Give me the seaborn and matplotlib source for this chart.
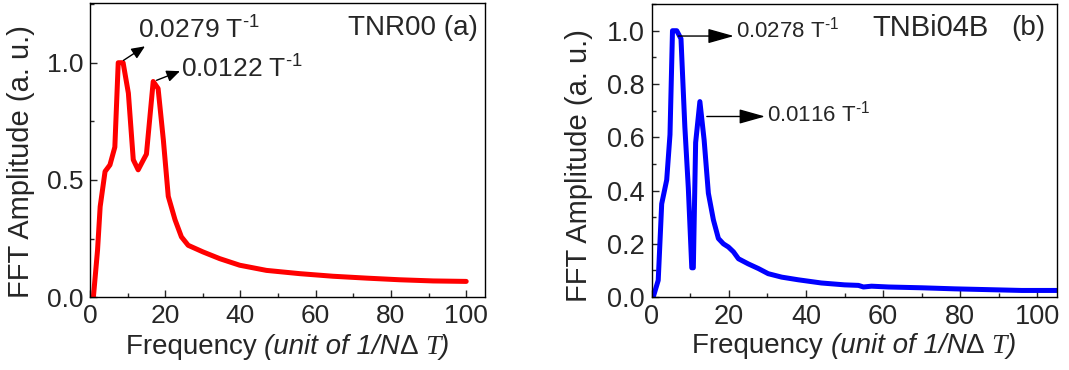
import matplotlib
matplotlib.use("Agg")
import matplotlib.pyplot as plt
import seaborn as sns
from matplotlib.ticker import MultipleLocator, FormatStrFormatter
from matplotlib.offsetbox import TextArea, HPacker, AnchoredOffsetbox

# panel (a) TNR00
freq_a = [0.9, 2.0, 2.7, 4.0, 5.3, 6.6, 7.5, 8.8, 10.2, 11.5, 12.8, 14.2, 15.0,
          16.8, 18.1, 19.5, 20.8, 22.6, 24.3, 26.1, 30.0, 34.5, 39.8, 46.9,
          55.8, 64.6, 73.5, 82.3, 91.2, 100.0]
amp_a = [0.0, 0.2, 0.386, 0.536, 0.564, 0.64, 1.0, 1.0, 0.87, 0.586, 0.543,
         0.586, 0.61, 0.92, 0.89, 0.67, 0.43, 0.33, 0.257, 0.221, 0.193, 0.164,
         0.136, 0.114, 0.10, 0.089, 0.081, 0.074, 0.069, 0.067]

# panel (b) TNBi04B
freq_b = [0.4, 1.7, 2.6, 3.9, 4.75, 5.4, 6.5, 7.6, 8.6, 9.5, 10.4, 10.8, 11.4,
          12.5, 13.6, 14.7, 16.0, 17.3, 18.6, 19.9, 21.2, 22.5, 25.0, 27.7,
          30.2, 33.7, 38.0, 44.0, 50.0, 53.6, 54.9, 57.0, 61.4, 70.0, 78.6,
          87.3, 95.9, 105.0]
amp_b = [0.0, 0.063, 0.35, 0.44, 0.61, 1.0, 1.0, 0.97, 0.64, 0.41, 0.11, 0.11,
         0.58, 0.734, 0.59, 0.39, 0.29, 0.22, 0.2, 0.188, 0.17, 0.144, 0.125,
         0.107, 0.088, 0.075, 0.065, 0.053, 0.046, 0.044, 0.038, 0.041, 0.038,
         0.035, 0.031, 0.028, 0.025, 0.025]

peak_labels_a = ["0.0279 T$^{\\text{-1}}$", "0.0122 T$^{\\text{-1}}$"]
peak_labels_b = ["0.0278 T$^{\\text{-1}}$", "0.0116 T$^{\\text{-1}}$"]

sns.set_style("ticks")
plt.rcParams['font.family'] = ['Liberation Sans', 'DejaVu Sans']
plt.rcParams['mathtext.fontset'] = 'custom'
plt.rcParams['mathtext.rm'] = 'Liberation Sans'
plt.rcParams['mathtext.it'] = 'Liberation Sans:italic'
plt.rcParams['mathtext.bf'] = 'Liberation Sans:bold'

ylabel = "FFT Amplitude (a. u.)"

fig = plt.figure(figsize=(10.69, 3.70), dpi=100)
ax_a = fig.add_axes([0.0842, 0.197, 0.3695, 0.795])
ax_b = fig.add_axes([0.6096, 0.197, 0.3789, 0.792])


def add_xlabel(ax, y):
    # mixed upright / italic label built from pieces
    size = 20
    parts = [
        TextArea("Frequency ", textprops=dict(fontsize=size)),
        TextArea("(unit of 1/N", textprops=dict(fontsize=size, style='italic')),
        TextArea("\u0394 ", textprops=dict(fontsize=size)),
        TextArea("T", textprops=dict(fontsize=size, style='italic',
                                     family='Liberation Serif')),
        TextArea(")", textprops=dict(fontsize=size, style='italic')),
    ]
    box = HPacker(children=parts, align="baseline", pad=0, sep=0)
    anchored = AnchoredOffsetbox(loc='center', child=box, pad=0, borderpad=0,
                                 frameon=False, bbox_to_anchor=(0.5, y),
                                 bbox_transform=ax.transAxes)
    ax.add_artist(anchored)


def style_axis(ax, tick_size, ymajor, yminor, ymax, ylab_x, ylab_y):
    ax.set_xlim(0, 105)
    ax.set_ylim(0, ymax)
    ax.xaxis.set_major_locator(MultipleLocator(20))
    ax.xaxis.set_minor_locator(MultipleLocator(10))
    ax.yaxis.set_major_locator(MultipleLocator(ymajor))
    ax.yaxis.set_minor_locator(MultipleLocator(yminor))
    ax.yaxis.set_major_formatter(FormatStrFormatter('%.1f'))
    ax.tick_params(which='both', direction='in', top=False, right=False,
                   labelsize=tick_size, width=1, pad=5)
    ax.tick_params(which='major', length=5)
    ax.tick_params(which='minor', length=3)
    for s in ax.spines.values():
        s.set_visible(True)
        s.set_linewidth(1)
        s.set_color('black')
    ax.set_xlabel("")
    ax.set_ylabel(ylabel, fontsize=21)
    ax.yaxis.set_label_coords(ylab_x, ylab_y)


# (a)
sns.lineplot(x=freq_a, y=amp_a, ax=ax_a, color='#ff0000', lw=3.6, sort=False,
             solid_joinstyle='round')
style_axis(ax_a, 19, 0.5, 0.25, 1.255, -0.14, 0.46)
add_xlabel(ax_a, -0.17)
arrow_a = dict(arrowstyle='-|>,head_length=0.8,head_width=0.35', color='black', lw=1,
               shrinkA=0, shrinkB=0)
ax_a.annotate("", xy=(14.6, 1.07), xytext=(8.9, 1.01), arrowprops=arrow_a)
ax_a.text(12.8, 1.14, peak_labels_a[0], fontsize=19, va='center', ha='left')
ax_a.annotate("", xy=(23.9, 0.964), xytext=(17.7, 0.925), arrowprops=arrow_a)
ax_a.text(24.3, 0.975, peak_labels_a[1], fontsize=19, va='center', ha='left')
ax_a.text(0.982, 0.915, "TNR00 (a)", transform=ax_a.transAxes, fontsize=20,
          ha='right', va='center')

# (b)
sns.lineplot(x=freq_b, y=amp_b, ax=ax_b, color='#0000ff', lw=3.6, sort=False,
             solid_joinstyle='round')
style_axis(ax_b, 19.5, 0.2, 0.1, 1.10, -0.145, 0.45)
add_xlabel(ax_b, -0.168)
arrow_b = dict(arrowstyle='-|>,head_length=1.6,head_width=0.45', color='black', lw=1,
               shrinkA=0, shrinkB=0)
ax_b.annotate("", xy=(21.3, 0.98), xytext=(6.9, 0.98), arrowprops=arrow_b)
ax_b.text(21.8, 1.005, peak_labels_b[0], fontsize=16, va='center', ha='left')
ax_b.annotate("", xy=(29.4, 0.678), xytext=(14.3, 0.678), arrowprops=arrow_b)
ax_b.text(29.8, 0.69, peak_labels_b[1], fontsize=16, va='center', ha='left')
ax_b.text(0.833, 0.92, "TNBi04B", transform=ax_b.transAxes, fontsize=21,
          ha='right', va='center')
ax_b.text(0.971, 0.92, "(b)", transform=ax_b.transAxes, fontsize=20,
          ha='right', va='center')

fig.savefig("out.png", dpi=100)
